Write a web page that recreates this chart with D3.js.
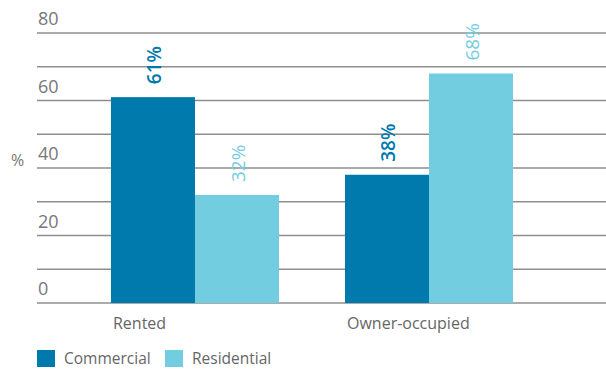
<!DOCTYPE html>
<html>
<head>
<meta charset="utf-8">
<script src="https://cdn.jsdelivr.net/npm/d3@7"></script>
<style>
  body { margin: 0; background: #fff; }
  text { font-family: "Open Sans", "DejaVu Sans", sans-serif; }
</style>
</head>
<body>
<div id="chart"></div>
<script>
var categories = ["Rented", "Owner-occupied"];
var seriesNames = ["Commercial", "Residential"];
var commercial = [61, 38];
var residential = [32, 68];
var yTicks = [0, 20, 40, 60, 80];
var gridValues = [0, 10, 20, 30, 40, 50, 60, 70, 80];

var colors = ["#0079ad", "#73cde0"];

var width = 606, height = 369;

var svg = d3.select("#chart").append("svg")
  .attr("width", width)
  .attr("height", height);

var y = d3.scaleLinear().domain([0, 80]).range([303, 33]);

var x0 = d3.scaleBand()
  .domain(categories)
  .range([78, 546])
  .paddingInner(0.282)
  .paddingOuter(0.141);

var x1 = d3.scaleBand()
  .domain(seriesNames)
  .range([0, x0.bandwidth()]);

// gridlines
svg.append("g").selectAll("line")
  .data(gridValues)
  .enter().append("line")
  .attr("x1", 37)
  .attr("x2", width)
  .attr("y1", d => y(d))
  .attr("y2", d => y(d))
  .attr("stroke", "#8e8e8e")
  .attr("stroke-width", 1.5);

// y tick labels sit just above their gridline
svg.append("g").selectAll("text")
  .data(yTicks)
  .enter().append("text")
  .attr("x", 38)
  .attr("y", d => y(d) - 8)
  .attr("fill", "#777")
  .style("font-size", "18px")
  .text(d => d);

svg.append("text")
  .attr("x", 11)
  .attr("y", 166)
  .attr("fill", "#777")
  .style("font-size", "16px")
  .text("%");

var rows = categories.map((c, i) => ({cat: c, vals: [commercial[i], residential[i]]}));

var groups = svg.append("g").selectAll("g")
  .data(rows)
  .enter().append("g")
  .attr("transform", d => "translate(" + x0(d.cat) + ",0)");

groups.selectAll("rect")
  .data(d => d.vals.map((v, j) => ({name: seriesNames[j], value: v, j: j})))
  .enter().append("rect")
  .attr("x", d => x1(d.name))
  .attr("y", d => y(d.value))
  .attr("width", x1.bandwidth())
  .attr("height", d => y(0) - y(d.value))
  .attr("fill", d => colors[d.j]);

// rotated value labels
groups.selectAll("text.val")
  .data(d => d.vals.map((v, j) => ({name: seriesNames[j], value: v, j: j})))
  .enter().append("text")
  .attr("class", "val")
  .attr("transform", d => "translate(" + (x1(d.name) + x1.bandwidth() / 2 + 8) + "," + (y(d.value) - 13) + ") rotate(-90)")
  .attr("fill", d => colors[d.j])
  .style("font-size", "19px")
  .style("font-weight", d => d.j == 0 ? 600 : 400)
  .text(d => d.value + "%");

// category labels, left-aligned at the group start
svg.append("g").selectAll("text")
  .data(categories)
  .enter().append("text")
  .attr("x", d => x0(d) + 2)
  .attr("y", 329)
  .attr("fill", "#666")
  .style("font-size", "16px")
  .text(d => d);

// legend
var legend = svg.append("g").selectAll("g")
  .data(seriesNames)
  .enter().append("g")
  .attr("transform", (d, i) => "translate(" + (37 + i * 128) + ",350)");

legend.append("rect")
  .attr("width", 18)
  .attr("height", 17)
  .attr("fill", (d, i) => colors[i]);

legend.append("text")
  .attr("x", 27)
  .attr("y", 14)
  .attr("fill", "#666")
  .style("font-size", "15.5px")
  .text(d => d);
</script>
</body>
</html>
